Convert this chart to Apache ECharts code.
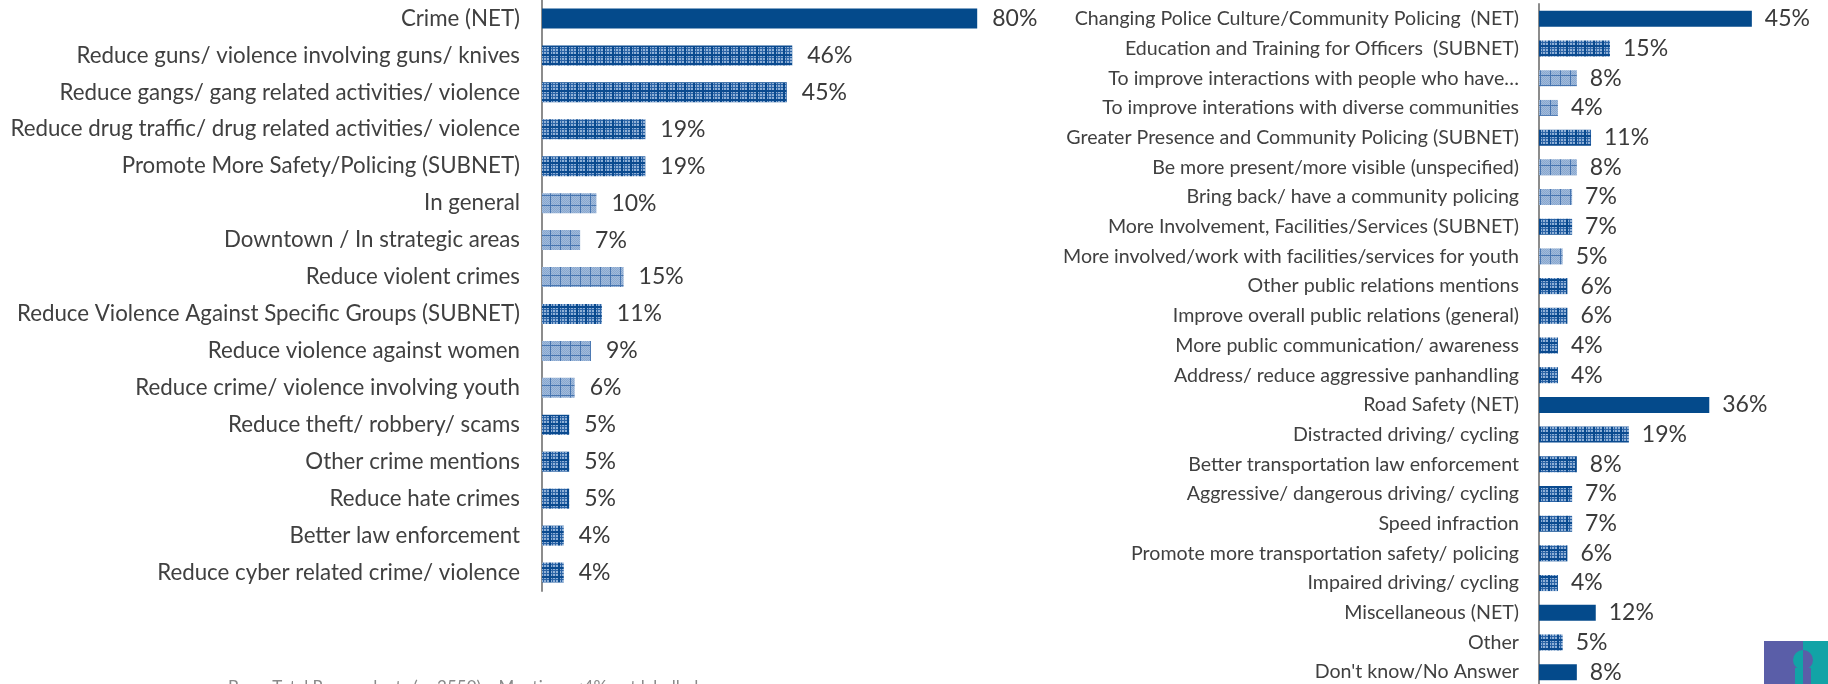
<!DOCTYPE html>
<html>
<head>
<meta charset="utf-8">
<style>
  html, body { margin: 0; padding: 0; background: #ffffff; }
  #chart { width: 1828px; height: 684px; }
</style>
<script src="https://cdn.jsdelivr.net/npm/echarts@6/dist/echarts.min.js"></script>
</head>
<body>
<div id="chart"></div>
<script>
// Crime-related priorities (left panel)
const crimeCategories = [
  'Crime (NET)',
  'Reduce guns/ violence involving guns/ knives',
  'Reduce gangs/ gang related activities/ violence',
  'Reduce drug traffic/ drug related activities/ violence',
  'Promote More Safety/Policing (SUBNET)',
  'In general',
  'Downtown / In strategic areas',
  'Reduce violent crimes',
  'Reduce Violence Against Specific Groups (SUBNET)',
  'Reduce violence against women',
  'Reduce crime/ violence involving youth',
  'Reduce theft/ robbery/ scams',
  'Other crime mentions',
  'Reduce hate crimes',
  'Better law enforcement',
  'Reduce cyber related crime/ violence'
];
const crimeValues = [80, 46, 45, 19, 19, 10, 7, 15, 11, 9, 6, 5, 5, 5, 4, 4];
// row level: net = NET total, sub = SUBNET / main mention, item = detail under a subnet
const crimeLevels = ['net', 'sub', 'sub', 'sub', 'sub', 'item', 'item', 'item', 'sub', 'item', 'item', 'sub', 'sub', 'sub', 'sub', 'sub'];

// Policing, road safety and other priorities (right panel)
const otherCategories = [
  'Changing Police Culture/Community Policing  (NET)',
  'Education and Training for Officers  (SUBNET)',
  'To improve interactions with people who have\u2026',
  'To improve interations with diverse communities',
  'Greater Presence and Community Policing (SUBNET)',
  'Be more present/more visible (unspecified)',
  'Bring back/ have a community policing',
  'More Involvement, Facilities/Services (SUBNET)',
  'More involved/work with facilities/services for youth',
  'Other public relations mentions',
  'Improve overall public relations (general)',
  'More public communication/ awareness',
  'Address/ reduce aggressive panhandling',
  'Road Safety (NET)',
  'Distracted driving/ cycling',
  'Better transportation law enforcement',
  'Aggressive/ dangerous driving/ cycling',
  'Speed infraction',
  'Promote more transportation safety/ policing',
  'Impaired driving/ cycling',
  'Miscellaneous (NET)',
  'Other',
  "Don't know/No Answer"
];
const otherValues = [45, 15, 8, 4, 11, 8, 7, 7, 5, 6, 6, 4, 4, 36, 19, 8, 7, 7, 6, 4, 12, 5, 8];
const otherLevels = ['net', 'sub', 'item', 'item', 'sub', 'item', 'item', 'sub', 'item', 'sub', 'sub', 'sub', 'sub',
                     'net', 'sub', 'sub', 'sub', 'sub', 'sub', 'sub', 'net', 'sub', 'net'];

const footnote = 'Base: Total Respondents (n=2550)    Mentions <4% not labelled';

// ---- fill patterns -------------------------------------------------------
function densePattern() {
  const c = document.createElement('canvas');
  c.width = 9; c.height = 9;
  const g = c.getContext('2d');
  g.fillStyle = '#8fb0d6';
  g.fillRect(0, 0, 9, 9);
  g.fillStyle = '#2c64a6';
  for (let i = 0; i < 9; i += 3) {
    g.fillRect(i, 0, 1, 9);
    g.fillRect(0, i, 9, 1);
  }
  g.fillStyle = '#0a4a8f';
  g.fillRect(0, 0, 2, 9);
  g.fillRect(0, 0, 9, 2);
  return c;
}
function lightPattern() {
  const c = document.createElement('canvas');
  c.width = 10; c.height = 10;
  const g = c.getContext('2d');
  g.fillStyle = '#a2bbdb';
  g.fillRect(0, 0, 10, 10);
  g.fillStyle = '#88a7cf';
  for (let y = 0; y < 10; y++) {
    for (let x = (y % 2); x < 10; x += 2) g.fillRect(x, y, 1, 1);
  }
  g.fillStyle = '#4775b0';
  g.fillRect(0, 0, 1, 10);
  g.fillRect(0, 5, 10, 1);
  return c;
}
const fills = {
  net: '#044a8b',
  sub: { image: densePattern(), repeat: 'repeat' },
  item: { image: lightPattern(), repeat: 'repeat' }
};

function buildData(values, levels) {
  return values.map((v, i) => ({ value: v, itemStyle: { color: fills[levels[i]] } }));
}

const FONT = 'Lato, "Noto Sans", sans-serif';
const labelColor = '#404040';

const chart = echarts.init(document.getElementById('chart'), null, { renderer: 'canvas' });

chart.setOption({
  backgroundColor: '#ffffff',
  animation: false,
  grid: [
    { left: 542, top: 0, width: 544, height: 591, outerBoundsMode: 'none', containLabel: false },
    { left: 1539, top: 4, width: 236.5, height: 683, outerBoundsMode: 'none', containLabel: false }
  ],
  xAxis: [
    { gridIndex: 0, type: 'value', min: 0, max: 100, show: false },
    { gridIndex: 1, type: 'value', min: 0, max: 50, show: false }
  ],
  yAxis: [
    {
      gridIndex: 0, type: 'category', inverse: true, data: crimeCategories,
      axisLine: { show: true, lineStyle: { color: '#8c8c8c', width: 2 } },
      axisTick: { show: false },
      axisLabel: { margin: 22, fontFamily: FONT, fontSize: 22.3, color: labelColor }
    },
    {
      gridIndex: 1, type: 'category', inverse: true, data: otherCategories,
      axisLine: { show: true, lineStyle: { color: '#8c8c8c', width: 2 } },
      axisTick: { show: false },
      axisLabel: { margin: 20, fontFamily: FONT, fontSize: 19.6, color: labelColor }
    }
  ],
  series: [
    {
      type: 'bar', xAxisIndex: 0, yAxisIndex: 0, barWidth: 20,
      data: buildData(crimeValues, crimeLevels),
      label: {
        show: true, position: 'right', distance: 15, formatter: '{c}%',
        fontFamily: FONT, fontSize: 23, color: '#3a3a3a'
      }
    },
    {
      type: 'bar', xAxisIndex: 1, yAxisIndex: 1, barWidth: 16,
      data: buildData(otherValues, otherLevels),
      label: {
        show: true, position: 'right', distance: 13, formatter: '{c}%',
        fontFamily: FONT, fontSize: 23, color: '#3a3a3a'
      }
    }
  ],
  graphic: [
    {
      type: 'text', left: 228, top: 679,
      style: { text: footnote, fontFamily: FONT, fontSize: 17, fill: '#8a8a8a' }
    },
    {
      type: 'group',
      children: [
        { type: 'rect', shape: { x: 1764, y: 641, width: 40, height: 43 }, style: { fill: '#5a5ea8' } },
        { type: 'rect', shape: { x: 1803, y: 641, width: 25, height: 43 }, style: { fill: '#12a3a6' } },
        // split head silhouette: each half takes the opposite colour
        { type: 'sector', shape: { cx: 1803, cy: 660, r0: 0, r: 10, startAngle: Math.PI / 2, endAngle: Math.PI * 1.5 }, style: { fill: '#12a3a6' } },
        { type: 'sector', shape: { cx: 1803, cy: 660, r0: 0, r: 10, startAngle: -Math.PI / 2, endAngle: Math.PI / 2 }, style: { fill: '#5a5ea8' } },
        { type: 'rect', shape: { x: 1795, y: 668, width: 8, height: 16 }, style: { fill: '#12a3a6' } },
        { type: 'rect', shape: { x: 1803, y: 668, width: 8, height: 16 }, style: { fill: '#5a5ea8' } }
      ]
    }
  ]
});
</script>
</body>
</html>
